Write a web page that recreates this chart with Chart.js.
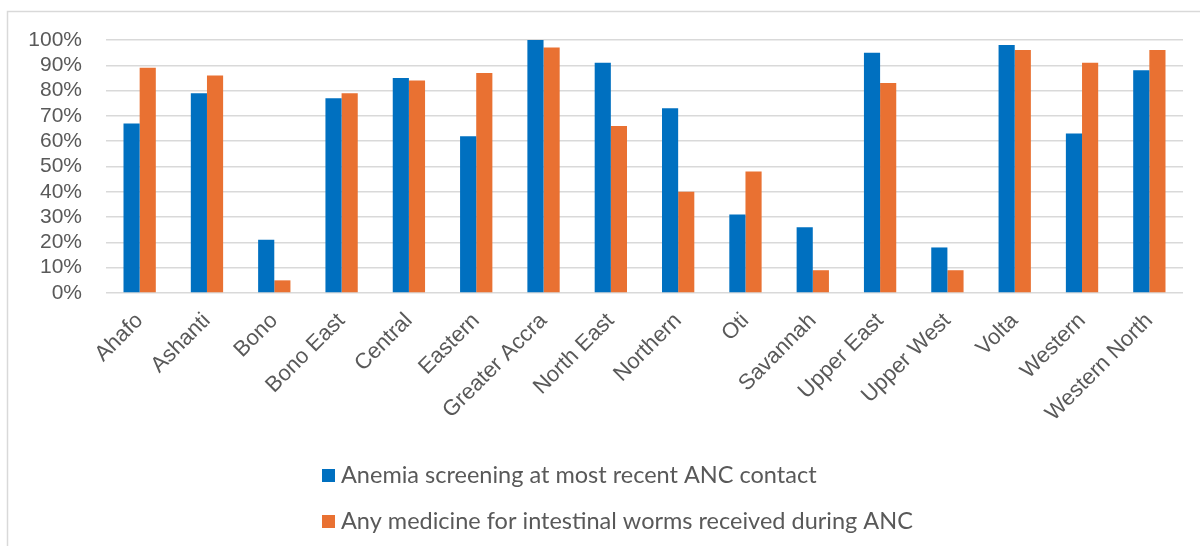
<!DOCTYPE html>
<html>
<head>
<meta charset="utf-8">
<script src="https://cdn.jsdelivr.net/npm/chart.js@4/dist/chart.umd.min.js"></script>
<style>
  html, body { margin: 0; padding: 0; background: #ffffff; }
  #wrap { width: 1200px; height: 546px; position: relative; }
</style>
</head>
<body>
<div id="wrap"><canvas id="chart" width="1200" height="546"></canvas></div>
<script>
// Regions of Ghana
const regions = [
  'Ahafo', 'Ashanti', 'Bono', 'Bono East', 'Central', 'Eastern',
  'Greater Accra', 'North East', 'Northern', 'Oti', 'Savannah',
  'Upper East', 'Upper West', 'Volta', 'Western', 'Western North'
];

// Percentage of women, by region
const anemiaScreening = [67, 79, 21, 77, 85, 62, 100, 91, 73, 31, 26, 95, 18, 98, 63, 88];
const wormMedicine    = [89, 86, 5, 79, 84, 87, 97, 66, 40, 48, 9, 83, 9, 96, 91, 96];

const seriesNames = [
  'Anemia screening at most recent ANC contact',
  'Any medicine for intestinal worms received during ANC'
];

const yTicks = [0, 10, 20, 30, 40, 50, 60, 70, 80, 90, 100];

const BLUE = '#0070C0';
const ORANGE = '#E97132';
const GRID = '#d9d9d9';
const TEXT = '#595959';

// Light frame around the chart
const framePlugin = {
  id: 'frame',
  beforeDraw(chart) {
    const ctx = chart.ctx;
    ctx.save();
    ctx.strokeStyle = GRID;
    ctx.lineWidth = 1.5;
    ctx.beginPath();
    ctx.moveTo(7.5, 546);
    ctx.lineTo(7.5, 11.5);
    ctx.lineTo(1200, 11.5);
    ctx.stroke();
    ctx.restore();
  }
};

// Stacked legend under the axis labels
const stackedLegend = {
  id: 'stackedLegend',
  afterDraw(chart) {
    const ctx = chart.ctx;
    ctx.save();
    ctx.font = '23.5px Lato';
    ctx.textBaseline = 'middle';
    ctx.textAlign = 'left';
    chart.data.datasets.forEach((ds, i) => {
      const y = 469 + i * 46;
      ctx.fillStyle = ds.backgroundColor;
      ctx.fillRect(322, y, 13, 13);
      ctx.fillStyle = TEXT;
      ctx.fillText(ds.label, 341, y + 6.5);
    });
    ctx.restore();
  }
};

new Chart(document.getElementById('chart'), {
  type: 'bar',
  data: {
    labels: regions,
    datasets: [
      { label: seriesNames[0], data: anemiaScreening, backgroundColor: BLUE },
      { label: seriesNames[1], data: wormMedicine, backgroundColor: ORANGE }
    ]
  },
  options: {
    responsive: false,
    animation: false,
    devicePixelRatio: 1,
    layout: { padding: { top: 40, right: 17, bottom: 120, left: 0 } },
    datasets: { bar: { categoryPercentage: 0.48, barPercentage: 1 } },
    plugins: {
      legend: { display: false },
      tooltip: { enabled: false }
    },
    scales: {
      x: {
        grid: { display: false },
        border: { display: false },
        ticks: {
          color: TEXT,
          font: { family: 'Liberation Sans', size: 22 },
          minRotation: 45,
          maxRotation: 45,
          padding: 7,
          autoSkip: false
        },
        afterFit(scale) { scale.height = 133; }
      },
      y: {
        min: 0,
        max: 100,
        afterBuildTicks(scale) { scale.ticks = yTicks.map(v => ({ value: v })); },
        grid: { color: GRID, lineWidth: 1.5, drawTicks: false },
        border: { display: false },
        ticks: {
          color: TEXT,
          font: { family: 'Liberation Sans', size: 21 },
          padding: 24,
          autoSkip: false,
          callback: v => v + '%'
        },
        afterFit(scale) { scale.width = 106; }
      }
    }
  },
  plugins: [framePlugin, stackedLegend]
});
</script>
</body>
</html>
